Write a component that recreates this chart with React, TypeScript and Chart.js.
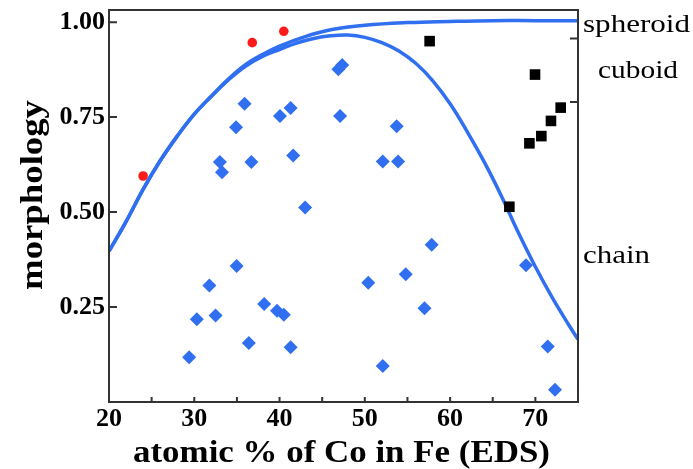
import React, { useEffect, useRef } from "react";
import { Chart, registerables } from "chart.js";

Chart.register(...registerables);

// Blue diamonds (measured morphology points)
const diamondX = [33.0, 33.25, 34.9, 35.9, 36.7, 40.05, 41.3, 41.6, 43.0, 46.9, 47.35, 47.1, 53.74, 52.1, 53.9, 34.97, 31.77, 30.3, 32.5, 29.4, 38.2, 39.7, 40.5, 36.4, 41.3, 57.84, 50.4, 54.8, 57.0, 52.1, 68.9, 71.45, 72.3];
const diamondY = [0.632, 0.605, 0.723, 0.785, 0.632, 0.753, 0.774, 0.649, 0.512, 0.876, 0.887, 0.753, 0.726, 0.633, 0.633, 0.358, 0.307, 0.218, 0.228, 0.118, 0.258, 0.24, 0.23, 0.155, 0.144, 0.414, 0.314, 0.336, 0.247, 0.095, 0.36, 0.146, 0.032];

// Red circles (spheroid)
const circleX = [24.0, 36.8, 40.5];
const circleY = [0.595, 0.946, 0.976];

// Black squares (cuboid)
const squareX = [57.6, 69.96, 72.97, 71.83, 70.7, 69.3, 66.95];
const squareY = [0.95, 0.862, 0.775, 0.74, 0.7, 0.681, 0.514];

// Upper curve (towards spheroid)
const spheroidCurveX = [20, 22, 24, 26, 28, 30, 32, 34, 36, 38, 40, 43, 46, 50, 55, 60, 65, 70, 75];
const spheroidCurveY = [0.397, 0.475, 0.56, 0.635, 0.7, 0.758, 0.805, 0.85, 0.888, 0.915, 0.937, 0.962, 0.98, 0.992, 0.999, 1.002, 1.004, 1.004, 1.004];

// Lower curve (towards chain)
const chainCurveX = [20, 22, 24, 26, 28, 30, 32, 34, 36, 38, 40, 42, 44, 46, 48, 50, 52, 54, 56, 58, 60, 62, 64, 66, 68, 70, 72, 74, 75];
const chainCurveY = [0.397, 0.475, 0.56, 0.635, 0.7, 0.758, 0.805, 0.848, 0.884, 0.91, 0.928, 0.945, 0.957, 0.964, 0.966, 0.96, 0.946, 0.924, 0.891, 0.845, 0.785, 0.712, 0.632, 0.543, 0.446, 0.356, 0.274, 0.2, 0.165];

// Axis ticks
const xTickLabels = [20, 30, 40, 50, 60, 70];
const xTickMarks = [25, 30, 35, 40, 45, 50, 55, 60, 65, 70];
const yTickLabels = [0.25, 0.5, 0.75, 1.0];
const rightTickMarks = [0.957, 0.79];

const xTitle = "atomic % of Co in Fe (EDS)";
const yTitle = "morphology";
const rightLabels = ["spheroid", "cuboid", "chain"];

const BLUE = "#2f6ff0";
const SERIF = '"Liberation Serif", "Times New Roman", serif';

function pts(xs: number[], ys: number[]) {
  return xs.map((x, i) => ({ x, y: ys[i] }));
}

function drawStretched(
  ctx: CanvasRenderingContext2D,
  text: string,
  x: number,
  y: number,
  font: string,
  targetWidth: number,
  align: "left" | "center",
  rotate = 0
) {
  ctx.save();
  ctx.font = font;
  const w = ctx.measureText(text).width;
  const sx = targetWidth / w;
  ctx.translate(x, y);
  if (rotate) ctx.rotate(rotate);
  ctx.scale(sx, 1);
  ctx.textAlign = align;
  ctx.textBaseline = "alphabetic";
  ctx.fillStyle = "#000";
  ctx.fillText(text, 0, 0);
  ctx.restore();
}

const framePlugin = {
  id: "framePlugin",
  afterDraw(chart: any) {
    const { ctx, chartArea: a, scales } = chart;
    const x = scales.x;
    const y = scales.y;
    ctx.save();
    ctx.strokeStyle = "#333";
    ctx.lineWidth = 2;
    ctx.strokeRect(a.left, a.top, a.right - a.left, a.bottom - a.top);
    ctx.beginPath();
    yTickLabels.forEach((v) => {
      const py = y.getPixelForValue(v);
      ctx.moveTo(a.left, py);
      ctx.lineTo(a.left + 8, py);
    });
    xTickMarks.forEach((v) => {
      const px = x.getPixelForValue(v);
      ctx.moveTo(px, a.bottom);
      ctx.lineTo(px, a.bottom - 5);
    });
    rightTickMarks.forEach((v) => {
      const py = y.getPixelForValue(v);
      ctx.moveTo(a.right, py);
      ctx.lineTo(a.right - 8, py);
    });
    ctx.stroke();
    ctx.restore();

    drawStretched(ctx, xTitle, 341.5, 462, `bold 31px ${SERIF}`, 417, "center");
    drawStretched(ctx, yTitle, 42, 195, `bold 31px ${SERIF}`, 190, "center", -Math.PI / 2);
    drawStretched(ctx, rightLabels[0], 583, 32, `26px ${SERIF}`, 107, "left");
    drawStretched(ctx, rightLabels[1], 598, 78, `26px ${SERIF}`, 80, "left");
    drawStretched(ctx, rightLabels[2], 583, 263, `26px ${SERIF}`, 67, "left");
  },
};

export default function App() {
  const ref = useRef<HTMLCanvasElement>(null);
  useEffect(() => {
    if (!ref.current) return;
    const chart = new Chart(ref.current, {
      type: "scatter",
      data: {
        datasets: [
          {
            label: "spheroid curve",
            data: pts(spheroidCurveX, spheroidCurveY),
            showLine: true,
            borderColor: BLUE,
            borderWidth: 3.5,
            pointRadius: 0,
            tension: 0.4,
            order: 2,
          } as any,
          {
            label: "chain curve",
            data: pts(chainCurveX, chainCurveY),
            showLine: true,
            borderColor: BLUE,
            borderWidth: 3.5,
            pointRadius: 0,
            tension: 0.4,
            order: 2,
          } as any,
          {
            label: "diamonds",
            data: pts(diamondX, diamondY),
            pointStyle: "rectRot",
            pointRadius: 7,
            backgroundColor: BLUE,
            borderColor: BLUE,
            borderWidth: 0,
            order: 1,
          },
          {
            label: "circles",
            data: pts(circleX, circleY),
            pointStyle: "circle",
            pointRadius: 4.8,
            backgroundColor: "#ff1a1a",
            borderColor: "#ff1a1a",
            borderWidth: 0,
            order: 0,
          },
          {
            label: "squares",
            data: pts(squareX, squareY),
            pointStyle: "rect",
            pointRadius: 7.5,
            backgroundColor: "#000",
            borderColor: "#000",
            borderWidth: 0,
            order: 0,
          },
        ],
      },
      options: {
        responsive: false,
        animation: false,
        devicePixelRatio: 1,
        layout: { padding: { left: 0, top: 10, right: 115, bottom: 0 } },
        plugins: {
          legend: { display: false },
          tooltip: { enabled: false },
        },
        scales: {
          x: {
            type: "linear",
            min: 20,
            max: 75,
            grid: { display: false, drawTicks: false },
            border: { display: false },
            afterFit: (s: any) => {
              s.height = 67;
              s.paddingLeft = 0;
              s.paddingRight = 0;
            },
            afterBuildTicks: (s: any) => {
              s.ticks = xTickLabels.map((v) => ({ value: v }));
            },
            ticks: {
              padding: 2,
              maxRotation: 0,
              color: "#000",
              font: { family: SERIF, size: 26, weight: "bold" },
              callback: (v: any) => String(v),
            },
          },
          y: {
            type: "linear",
            min: 0,
            max: 1.032,
            grid: { display: false, drawTicks: false },
            border: { display: false },
            afterFit: (s: any) => {
              s.width = 109;
              s.paddingTop = 0;
              s.paddingBottom = 0;
            },
            afterBuildTicks: (s: any) => {
              s.ticks = yTickLabels.map((v) => ({ value: v }));
            },
            ticks: {
              padding: 4,
              color: "#000",
              font: { family: SERIF, size: 26, weight: "bold" },
              callback: (v: any) => Number(v).toFixed(2),
            },
          },
        },
      },
      plugins: [framePlugin],
    });
    return () => chart.destroy();
  }, []);
  return (
    <div style={{ position: "fixed", left: 0, top: 0, width: 693, height: 469, background: "#fff" }}>
      <canvas ref={ref} width={693} height={469} />
    </div>
  );
}
